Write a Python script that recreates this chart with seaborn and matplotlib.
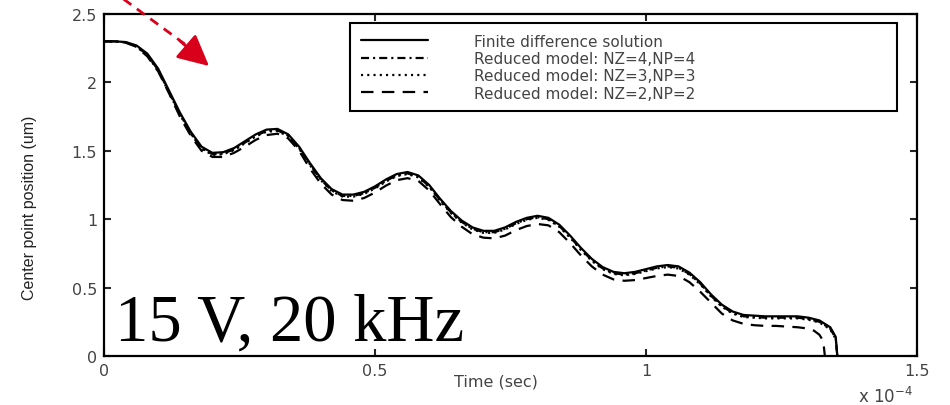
import matplotlib
matplotlib.use("Agg")
import matplotlib.pyplot as plt
from matplotlib.lines import Line2D
import seaborn as sns
import pandas as pd

# ---- data (time in units of 1e-4 s, position in um) ----
time_fd = [0.00, 0.02, 0.04, 0.06, 0.08, 0.10, 0.12, 0.14, 0.16, 0.18,
           0.20, 0.22, 0.24, 0.26, 0.28, 0.30, 0.32, 0.34, 0.36, 0.38,
           0.40, 0.42, 0.44, 0.46, 0.48, 0.50, 0.52, 0.54, 0.56, 0.58,
           0.60, 0.62, 0.64, 0.66, 0.68, 0.70, 0.72, 0.74, 0.76, 0.78,
           0.80, 0.82, 0.84, 0.86, 0.88, 0.90, 0.92, 0.94, 0.96, 0.98,
           1.00, 1.02, 1.04, 1.06, 1.08, 1.10, 1.12, 1.14, 1.16, 1.18,
           1.20, 1.22, 1.24, 1.26, 1.28, 1.30, 1.32, 1.34, 1.35, 1.353]
pos_fd = [2.300, 2.300, 2.295, 2.27, 2.21, 2.10, 1.94, 1.78, 1.64, 1.53,
          1.485, 1.49, 1.52, 1.57, 1.62, 1.655, 1.66, 1.62, 1.53, 1.41,
          1.30, 1.22, 1.18, 1.18, 1.20, 1.24, 1.29, 1.33, 1.345, 1.32,
          1.25, 1.15, 1.06, 0.99, 0.94, 0.915, 0.915, 0.94, 0.98, 1.01,
          1.025, 1.01, 0.96, 0.88, 0.79, 0.71, 0.65, 0.615, 0.605, 0.615,
          0.635, 0.655, 0.665, 0.655, 0.61, 0.54, 0.45, 0.375, 0.325, 0.30,
          0.295, 0.29, 0.29, 0.29, 0.29, 0.28, 0.26, 0.21, 0.14, 0.0]
pos_nz4 = [2.300, 2.300, 2.293, 2.265, 2.20, 2.09, 1.93, 1.77, 1.63, 1.52,
           1.475, 1.48, 1.51, 1.56, 1.61, 1.645, 1.65, 1.61, 1.52, 1.40,
           1.29, 1.21, 1.17, 1.17, 1.19, 1.23, 1.28, 1.32, 1.335, 1.31,
           1.24, 1.14, 1.05, 0.98, 0.93, 0.905, 0.905, 0.93, 0.97, 1.00,
           1.015, 1.00, 0.95, 0.87, 0.78, 0.70, 0.64, 0.605, 0.595, 0.605,
           0.625, 0.645, 0.655, 0.645, 0.60, 0.53, 0.44, 0.365, 0.315, 0.29,
           0.285, 0.28, 0.28, 0.28, 0.28, 0.27, 0.25, 0.20, 0.13, 0.0]
pos_nz3 = [2.300, 2.300, 2.292, 2.262, 2.195, 2.085, 1.925, 1.765, 1.625, 1.515,
           1.47, 1.475, 1.505, 1.555, 1.605, 1.64, 1.645, 1.605, 1.515, 1.395,
           1.285, 1.205, 1.165, 1.165, 1.185, 1.225, 1.275, 1.315, 1.33, 1.305,
           1.235, 1.135, 1.045, 0.975, 0.925, 0.90, 0.90, 0.925, 0.965, 0.995,
           1.01, 0.995, 0.945, 0.865, 0.775, 0.695, 0.635, 0.60, 0.59, 0.60,
           0.62, 0.64, 0.65, 0.64, 0.595, 0.525, 0.435, 0.36, 0.31, 0.285,
           0.28, 0.275, 0.275, 0.275, 0.275, 0.265, 0.245, 0.195, 0.125, 0.0]
time_nz2 = [0.00, 0.02, 0.04, 0.06, 0.08, 0.10, 0.12, 0.14, 0.16, 0.18,
            0.20, 0.22, 0.24, 0.26, 0.28, 0.30, 0.32, 0.34, 0.36, 0.38,
            0.40, 0.42, 0.44, 0.46, 0.48, 0.50, 0.52, 0.54, 0.56, 0.58,
            0.60, 0.62, 0.64, 0.66, 0.68, 0.70, 0.72, 0.74, 0.76, 0.78,
            0.80, 0.82, 0.84, 0.86, 0.88, 0.90, 0.92, 0.94, 0.96, 0.98,
            1.00, 1.02, 1.04, 1.06, 1.08, 1.10, 1.12, 1.14, 1.16, 1.18,
            1.20, 1.22, 1.24, 1.26, 1.28, 1.30, 1.31, 1.32, 1.327, 1.33]
pos_nz2 = [2.300, 2.300, 2.29, 2.26, 2.19, 2.08, 1.92, 1.75, 1.61, 1.50,
           1.455, 1.455, 1.485, 1.53, 1.58, 1.615, 1.625, 1.59, 1.50, 1.37,
           1.26, 1.18, 1.14, 1.135, 1.155, 1.195, 1.245, 1.285, 1.30, 1.28,
           1.21, 1.11, 1.015, 0.945, 0.89, 0.865, 0.86, 0.88, 0.92, 0.95,
           0.965, 0.955, 0.905, 0.825, 0.735, 0.655, 0.595, 0.56, 0.55, 0.555,
           0.57, 0.585, 0.595, 0.585, 0.54, 0.47, 0.39, 0.31, 0.26, 0.235,
           0.225, 0.22, 0.22, 0.215, 0.21, 0.20, 0.185, 0.155, 0.11, 0.0]

labels = ["Finite difference solution",
          "Reduced model: NZ=4,NP=4",
          "Reduced model: NZ=3,NP=3",
          "Reduced model: NZ=2,NP=2"]
x_ticks = [0, 0.5, 1, 1.5]
x_ticklabels = ["0", "0.5", "1", "1.5"]
y_ticks = [0, 0.5, 1, 1.5, 2, 2.5]
y_ticklabels = ["0", "0.5", "1", "1.5", "2", "2.5"]

# ---- style ----
sns.set_theme(style="ticks")
plt.rcParams["font.family"] = ["DejaVu Sans"]
plt.rcParams["lines.scale_dashes"] = False
grey = "#444444"

fig = plt.figure(figsize=(9.5, 4.06), dpi=100)
ax = fig.add_axes([104 / 950, 1 - 357 / 406, 813 / 950, 342 / 406])

styles = [
    ("-", pos_fd, time_fd),
    ((0, (5.8, 2.9, 1.5, 2.9)), pos_nz4, time_fd),
    ((0, (1.5, 3.0)), pos_nz3, time_fd),
    ((0, (9.0, 6.0)), pos_nz2, time_nz2),
]
for (ls, ys, xs) in styles[::-1]:
    df = pd.DataFrame({"t": xs, "p": ys})
    sns.lineplot(data=df, x="t", y="p", ax=ax, color="black", linewidth=1.6,
                 linestyle=ls, sort=False, estimator=None)
handles = [Line2D([0], [0], color="black", linewidth=1.6, linestyle=ls)
           for ls, _, _ in styles]

ax.set_xlim(0, 1.5)
ax.set_ylim(0, 2.5)
ax.set_xticks(x_ticks)
ax.set_xticklabels(x_ticklabels)
ax.set_yticks(y_ticks)
ax.set_yticklabels(y_ticklabels)
ax.tick_params(direction="in", length=5, width=1.5, top=True, right=True,
               labelsize=11.5, labelcolor=grey, pad=5)
for s in ax.spines.values():
    s.set_linewidth(1.6)
    s.set_color("black")

ax.set_xlabel("Time (sec)", fontsize=11.5, color=grey)
ax.xaxis.set_label_coords(0.482, -0.05)
ax.set_ylabel("Center point position (um)", fontsize=11.5, color="#222222",
              family=["Liberation Sans"])
ax.yaxis.set_label_coords(-0.083, 0.436)

ax.text(0.995, -0.117, "x 10$^{-4}$", transform=ax.transAxes, ha="right",
        va="center", fontsize=12, color=grey)

leg = ax.legend(handles, labels, loc="upper left",
                bbox_to_anchor=(0.3026, 0.7164, 0.6728, 0.2573), mode="expand",
                borderaxespad=0, fontsize=11, frameon=True, fancybox=False,
                edgecolor="black", framealpha=1, handlelength=4.4,
                handletextpad=3.0, labelspacing=0.15, borderpad=0.7)
leg.get_frame().set_linewidth(1.5)
for t in leg.get_texts():
    t.set_color(grey)

ax.text(0.0135, 0.047, "15 V, 20 kHz", transform=ax.transAxes, ha="left",
        va="baseline", fontsize=48, family=["Liberation Serif", "DejaVu Serif"],
        color="black")

# red dashed arrow (annotation)
red = "#d9001b"
fig.add_artist(Line2D([118 / 950, 186 / 950], [1 + 4 / 406, 1 - 46 / 406],
                      transform=fig.transFigure, color=red, linewidth=2,
                      linestyle=(0, (7, 5))))
ax.annotate("", xy=(209 / 950, 1 - 67 / 406), xycoords="figure fraction",
            xytext=(180 / 950, 1 - 42 / 406), textcoords="figure fraction",
            arrowprops=dict(arrowstyle="-|>,head_length=1.6,head_width=0.8",
                            color=red, linewidth=2, shrinkA=0, shrinkB=0),
            annotation_clip=False)

fig.savefig("out.png", dpi=100)
